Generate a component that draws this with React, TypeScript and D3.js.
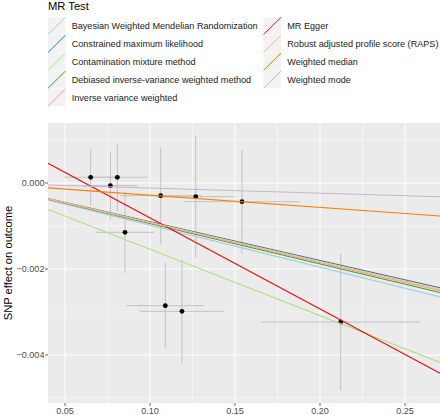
import React from "react";
import * as d3 from "d3";

// SNP data
const snpX = [0.0651, 0.0767, 0.0808, 0.0853, 0.1063, 0.1269, 0.1541, 0.109, 0.1188, 0.2122];
const snpY = [0.000133, -0.000063, 0.000133, -0.001147, -0.000295, -0.000319, -0.000435, -0.002853, -0.002984, -0.003233];
const snpXHalf = [0.0153, 0.0159, 0.0175, 0.0172, 0.0241, 0.0232, 0.0338, 0.0228, 0.025, 0.0469];
const snpYHalf = [0.00066, 0.00079, 0.000795, 0.00095, 0.00112, 0.00141, 0.00121, 0.00099, 0.0012, 0.00159];

// MR methods
const methodNames = [
  "Bayesian Weighted Mendelian Randomization",
  "Constrained maximum likelihood",
  "Contamination mixture method",
  "Debiased inverse-variance weighted method",
  "Inverse variance weighted",
  "MR Egger",
  "Robust adjusted profile score (RAPS)",
  "Weighted median",
  "Weighted mode",
];
const methodSlopes = [-0.00979, -0.00901, -0.01542, -0.00941, -0.00925, -0.02117, -0.00914, -0.00283, -0.00118];
const methodIntercepts = [0, 0, 0, 0, 0, 0.001305, 0, 0, 0];
const methodColors = ["#A6CEE3", "#1F78B4", "#B2DF8A", "#33A02C", "#FB9A99", "#E31A1C", "#FDBF6F", "#FF7F00", "#CAB2D6"];

const xTicks = [0.05, 0.1, 0.15, 0.2, 0.25];
const xMinor = [0.075, 0.125, 0.175, 0.225];
const yTicks = [0, -0.002, -0.004];
const yMinor = [0.001, -0.001, -0.003, -0.005];

const W = 440, H = 415;
const PL = 48, PR = 440, PT = 123, PB = 403;
const FONT = "'Liberation Sans', Arial, sans-serif";

export default function App() {
  const x = d3.scaleLinear().domain([0.04, 0.04 + 392 / 1700]).range([PL, PR]);
  const y = d3.scaleLinear().domain([60 / 43000, -220 / 43000]).range([PT, PB]);
  const [x0, x1] = x.domain();
  const fmtX = d3.format(".2f");
  const fmtY = (v: number) => (v < 0 ? "\u2212" : "") + d3.format(".3f")(Math.abs(v));

  const keyW = 17.5, keyH = 17.3, rowStep = 17.9, rowTop = 17.3;
  const cols = [
    { kx: 48, tx: 71.7, items: [0, 1, 2, 3, 4] },
    { kx: 263.5, tx: 287.3, items: [5, 6, 7, 8] },
  ];

  return (
    <svg width={W} height={H} style={{ position: "absolute", left: 0, top: 0 }} fontFamily={FONT}>
      <defs>
        <clipPath id="panel">
          <rect x={PL} y={PT} width={PR - PL} height={PB - PT} />
        </clipPath>
      </defs>
      <rect x={0} y={0} width={W} height={H} fill="#fff" />
      {/* Legend */}
      <text x={48} y={9.6} fontSize={11.2} fill="#000">MR Test</text>
      {cols.map((c, ci) =>
        c.items.map((m, ri) => {
          const top = rowTop + ri * rowStep;
          return (
            <g key={`${ci}-${ri}`}>
              <rect x={c.kx} y={top} width={keyW} height={keyH} fill="#F2F2F2" />
              <line x1={c.kx} y1={top + keyH} x2={c.kx + keyW} y2={top} stroke={methodColors[m]} strokeWidth={1} />
              <text x={c.tx} y={top + keyH / 2 + 3.3} fontSize={9.1} fill="#1A1A1A">{methodNames[m]}</text>
            </g>
          );
        })
      )}
      {/* Panel */}
      <rect x={PL} y={PT} width={PR - PL} height={PB - PT} fill="#EBEBEB" />
      {xMinor.map((v) => (
        <line key={`xm${v}`} x1={x(v)} x2={x(v)} y1={PT} y2={PB} stroke="#fff" strokeWidth={0.5} />
      ))}
      {yMinor.map((v) => (
        <line key={`ym${v}`} x1={PL} x2={PR} y1={y(v)} y2={y(v)} stroke="#fff" strokeWidth={0.5} />
      ))}
      {xTicks.map((v) => (
        <line key={`xg${v}`} x1={x(v)} x2={x(v)} y1={PT} y2={PB} stroke="#fff" strokeWidth={1} />
      ))}
      {yTicks.map((v) => (
        <line key={`yg${v}`} x1={PL} x2={PR} y1={y(v)} y2={y(v)} stroke="#fff" strokeWidth={1} />
      ))}
      <g clipPath="url(#panel)">
        {snpX.map((v, i) => (
          <g key={`eb${i}`}>
            <line x1={x(v)} x2={x(v)} y1={y(snpY[i] - snpYHalf[i])} y2={y(snpY[i] + snpYHalf[i])} stroke="#C2C2C2" strokeWidth={1} />
            <line x1={x(v - snpXHalf[i])} x2={x(v + snpXHalf[i])} y1={y(snpY[i])} y2={y(snpY[i])} stroke="#C2C2C2" strokeWidth={1} />
          </g>
        ))}
        {snpX.map((v, i) => (
          <circle key={`pt${i}`} cx={x(v)} cy={y(snpY[i])} r={2.4} fill="#000" />
        ))}
        {methodSlopes.map((s, i) => (
          <line key={`ml${i}`} x1={x(x0)} x2={x(x1)} y1={y(methodIntercepts[i] + s * x0)} y2={y(methodIntercepts[i] + s * x1)} stroke={methodColors[i]} strokeWidth={1.1} />
        ))}
      </g>
      {/* Axes */}
      {xTicks.map((v) => (
        <g key={`xt${v}`}>
          <line x1={x(v)} x2={x(v)} y1={PB} y2={PB + 2.8} stroke="#333" strokeWidth={0.8} />
          <text x={x(v)} y={413.8} fontSize={9.1} fill="#4D4D4D" textAnchor="middle">{fmtX(v)}</text>
        </g>
      ))}
      {yTicks.map((v) => (
        <g key={`yt${v}`}>
          <line x1={PL - 2.8} x2={PL} y1={y(v)} y2={y(v)} stroke="#333" strokeWidth={0.8} />
          <text x={PL - 3.5} y={y(v) + 3.2} fontSize={9.1} fill="#4D4D4D" textAnchor="end">{fmtY(v)}</text>
        </g>
      ))}
      <text transform={`translate(11.5,${(PT + PB) / 2}) rotate(-90)`} fontSize={11.2} fill="#000" textAnchor="middle">SNP effect on outcome</text>
    </svg>
  );
}
